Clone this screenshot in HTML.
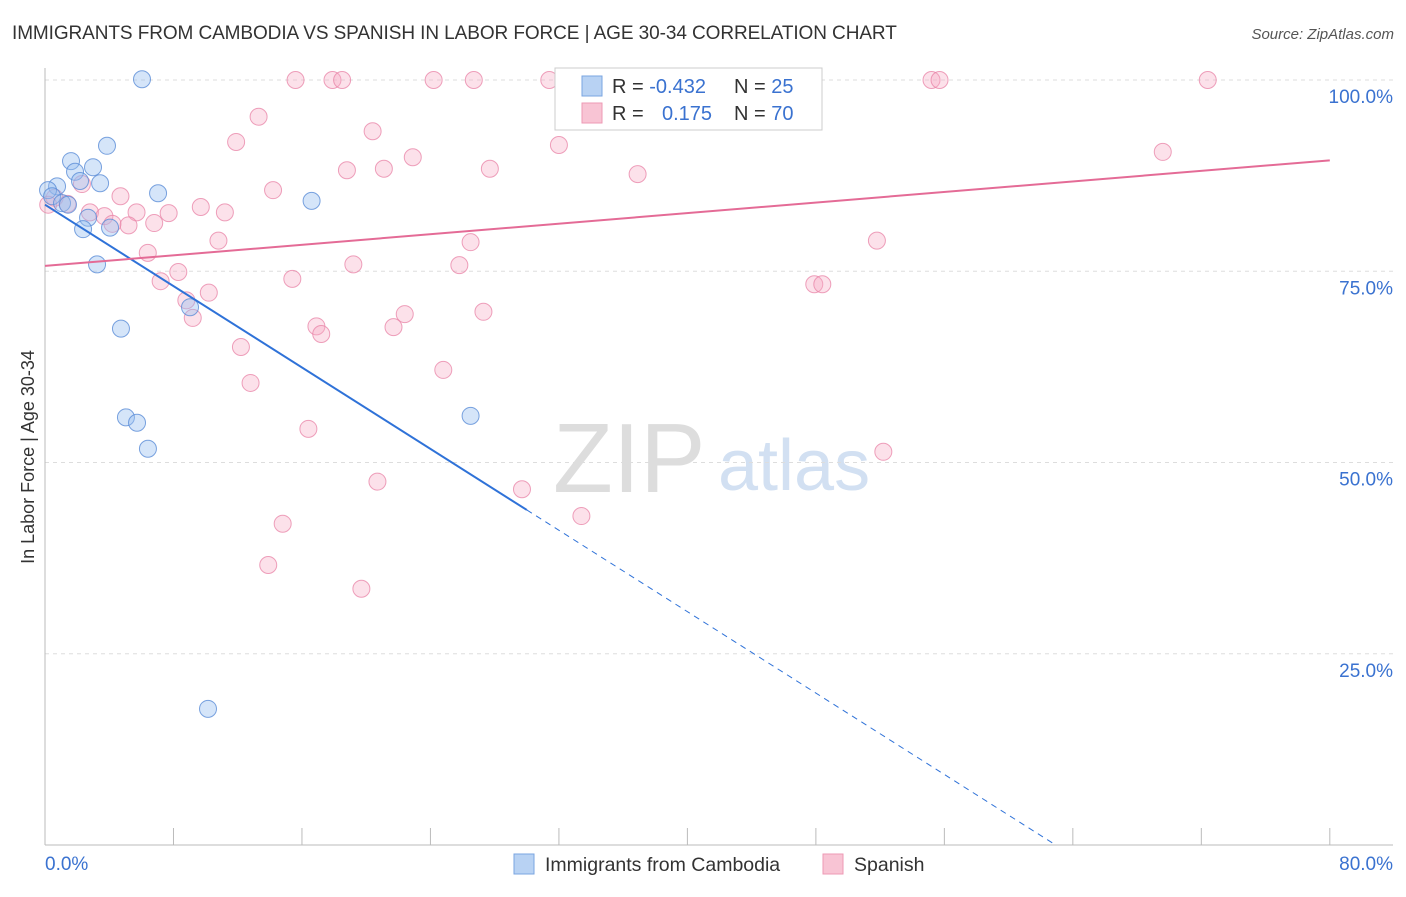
<!DOCTYPE html>
<html><head><meta charset="utf-8"><style>
body{margin:0;background:#fff;font-family:"Liberation Sans",sans-serif;}
svg text{font-family:"Liberation Sans",sans-serif;}
</style></head><body>
<svg id="c" width="1406" height="892" xmlns="http://www.w3.org/2000/svg">
<text x="12" y="39" font-size="19" fill="#333" textLength="885" style="letter-spacing:0.2px">IMMIGRANTS FROM CAMBODIA VS SPANISH IN LABOR FORCE | AGE 30-34 CORRELATION CHART</text>
<text x="1394" y="39" font-size="15" fill="#555" font-style="italic" text-anchor="end">Source: ZipAtlas.com</text>
<text x="34" y="457" font-size="18" fill="#333" text-anchor="middle" transform="rotate(-90 34 457)">In Labor Force | Age 30-34</text>
<text x="553" y="492" font-size="98" fill="#ddd" font-family="Liberation Serif">ZIP</text>
<text x="718" y="490" font-size="72" fill="#d2e0f2">atlas</text>
<g id="grid"></g><g id="pts"></g><g id="lines"></g>
<g>
<rect x="555" y="68" width="267" height="62" fill="#fff" stroke="#ccc"/>
<rect x="582" y="76" width="20" height="20" fill="#b8d2f3" stroke="#7aa5e0"/>
<rect x="582" y="103" width="20" height="20" fill="#f8c4d4" stroke="#ee9ab4"/>
<text x="612" y="93" font-size="20" fill="#333">R = <tspan fill="#3a72d0">-0.432</tspan></text>
<text x="734" y="93" font-size="20" fill="#333">N = <tspan fill="#3a72d0">25</tspan></text>
<text x="612" y="120" font-size="20" fill="#333">R = <tspan fill="#3a72d0" x="662">0.175</tspan></text>
<text x="734" y="120" font-size="20" fill="#333">N = <tspan fill="#3a72d0">70</tspan></text>
</g>
<g>
<rect x="514" y="854" width="20" height="20" fill="#b8d2f3" stroke="#7aa5e0"/>
<text x="545" y="871" font-size="19.5" fill="#333">Immigrants from Cambodia</text>
<rect x="823" y="854" width="20" height="20" fill="#f8c4d4" stroke="#ee9ab4"/>
<text x="854" y="871" font-size="19.5" fill="#333">Spanish</text>
</g>
<text x="45" y="870" font-size="19" fill="#3a72d0">0.0%</text>
<text x="1393" y="870" font-size="19" fill="#3a72d0" text-anchor="end">80.0%</text>
</svg>
<script>
const blueX=[6.04,3.86,1.62,2.99,1.87,2.18,3.43,0.75,0.19,7.04,0.44,1.06,1.43,16.6,2.68,2.37,4.05,3.24,4.73,9.03,5.04,5.73,6.41,26.5,10.15];
const blueY=[100.1,91.4,89.4,88.6,88.0,86.8,86.5,86.1,85.6,85.2,84.8,83.9,83.7,84.2,82.0,80.5,80.7,75.9,67.5,70.3,55.9,55.2,51.8,56.1,17.8];
const pinkX=[15.6,17.9,18.5,24.2,26.7,31.4,42.0,55.2,55.7,72.4,13.3,20.4,11.9,32.0,22.9,69.6,18.8,21.1,27.7,36.9,2.3,14.2,4.7,0.6,0.2,1.4,2.8,3.7,5.7,9.7,11.2,7.7,5.2,6.8,4.2,10.8,26.5,51.8,6.4,19.2,25.8,8.3,7.2,15.4,47.9,48.4,10.2,8.8,22.4,9.2,27.3,16.9,17.2,21.7,12.2,24.8,12.8,16.4,52.2,20.7,29.7,33.4,14.8,13.9,19.7];
const pinkY=[100,100,100,100,100,100,100,100,100,100,95.2,93.3,91.9,91.5,89.9,90.6,88.2,88.4,88.4,87.7,86.4,85.6,84.8,84.6,83.7,83.8,82.7,82.2,82.7,83.4,82.7,82.6,81.0,81.3,81.2,79.0,78.8,79.0,77.4,75.9,75.8,74.9,73.7,74.0,73.3,73.3,72.2,71.2,69.4,68.9,69.7,67.8,66.8,67.7,65.1,62.1,60.4,54.4,51.4,47.5,46.5,43.0,42.0,36.6,33.5];
const yTicks=[25,50,75,100];
const yTickLabels=["25.0%","50.0%","75.0%","100.0%"];
const blueTrend=[83.7,-1.33];
const pinkTrend=[75.7,0.1725];
const NS="http://www.w3.org/2000/svg";
const sx=v=>45+v*16.06, sy=v=>845-v*7.65;
function mk(t,a,p){const e=document.createElementNS(NS,t);for(const k in a)e.setAttribute(k,a[k]);p.appendChild(e);return e;}
const g=document.getElementById('grid');
yTicks.forEach((t,i)=>{
 const l=mk('line',{x1:45,x2:1393,y1:sy(t),y2:sy(t),stroke:'#ddd','stroke-dasharray':'4,4'},g);
 
 
 const tx=mk('text',{x:1393,y:sy(t)+23,'font-size':19,fill:'#3a72d0','text-anchor':'end'},g);
 tx.textContent=yTickLabels[i];
 
 
});
const ax=mk('line',{x1:45,x2:45,y1:68,y2:845,stroke:'#bbb'},g);


const bx=mk('line',{x1:45,x2:1393,y1:845,y2:845,stroke:'#bbb'},g);


for(let i=0;i<=10;i++){const x=sx(i*8);const tk=mk('line',{x1:x,x2:x,y1:828,y2:845,stroke:'#bbb'},g);
 
 }
const P=document.getElementById('pts');
pinkX.forEach((x,i)=>{const c=mk('circle',{cx:sx(x),cy:sy(pinkY[i]),r:8.5,fill:'rgba(245,170,195,0.35)',stroke:'rgba(232,130,165,0.75)','stroke-width':1},P);
 
 });
blueX.forEach((x,i)=>{const c=mk('circle',{cx:sx(x),cy:sy(blueY[i]),r:8.5,fill:'rgba(150,190,240,0.4)',stroke:'rgba(90,140,215,0.8)','stroke-width':1},P);
 
 });
const L=document.getElementById('lines');
const bf=x=>blueTrend[0]+blueTrend[1]*x, pf=x=>pinkTrend[0]+pinkTrend[1]*x;
const x0=-blueTrend[0]/blueTrend[1];
const l1=mk('line',{x1:sx(0),y1:sy(bf(0)),x2:sx(30),y2:sy(bf(30)),stroke:'#2f72d8','stroke-width':2},L);


const l2=mk('line',{x1:sx(30),y1:sy(bf(30)),x2:sx(x0),y2:sy(0),stroke:'#2f72d8','stroke-width':1,'stroke-dasharray':'6,5'},L);


const l3=mk('line',{x1:sx(0),y1:sy(pf(0)),x2:sx(80),y2:sy(pf(80)),stroke:'#e46b96','stroke-width':2},L);


</script>
</body></html>
